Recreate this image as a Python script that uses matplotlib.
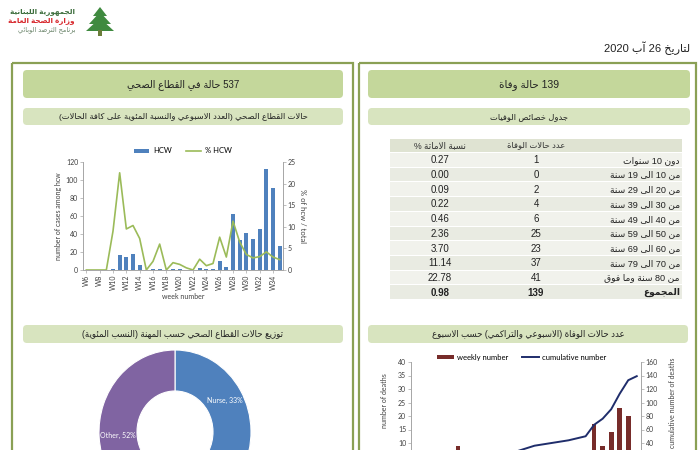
import matplotlib
matplotlib.use("Agg")
import matplotlib.pyplot as plt
from matplotlib.patches import FancyBboxPatch, Rectangle, Polygon
import numpy as np

# ---------------- data ----------------
date_text = "لتاريخ 26 آب 2020"
logo_lines = ["الجمهورية اللبنانية", "وزارة الصحة العامة", "برنامج الترصد الوبائي"]
hcw_title = "537 حالة في القطاع الصحي"
hcw_sub = "حالات القطاع الصحي (العدد الاسبوعي والنسبة المئوية على كافة الحالات)"
prof_sub = "توزيع حالات القطاع الصحي حسب المهنة (النسب المئوية)"
death_title = "139 حالة وفاة"
death_sub = "جدول خصائص الوفيات"
weekly_sub = "عدد حالات الوفاة (الاسبوعي والتراكمي) حسب الاسبوع"

hcw_weeks = ["W6", "W7", "W8", "W9", "W10", "W11", "W12", "W13", "W14", "W15",
             "W16", "W17", "W18", "W19", "W20", "W21", "W22", "W23", "W24", "W25",
             "W26", "W27", "W28", "W29", "W30", "W31", "W32", "W33", "W34", "W35"]
hcw_cases = [0, 0, 0, 0, 1, 17, 14, 18, 6, 0,
             1, 1, 0, 1, 1, 0, 0, 2, 1, 1,
             10, 3, 62, 33, 41, 35, 46, 112, 91, 27]
hcw_pct = [0, 0, 0, 0, 9, 22.5, 9.5, 10.3, 7.3, 0,
           2, 6, 0, 1.7, 1.3, 0.5, 0, 2.5, 1, 1.5,
           7.6, 3, 11.3, 6.5, 3.6, 2.8, 3.1, 4.2, 3, 2.4]

prof_labels = ["Nurse", "Doctor", "Technician", "Other"]
prof_pct = [33, 9, 6, 52]

table_headers = ["نسبة الاماتة %", "عدد حالات الوفاة"]
age_groups = ["دون 10 سنوات", "من 10 الى 19 سنة", "من 20 الى 29 سنة",
              "من 30 الى 39 سنة", "من 40 الى 49 سنة", "من 50 الى 59 سنة",
              "من 60 الى 69 سنة", "من 70 الى 79 سنة", "من 80 سنة وما فوق"]
deaths_by_age = [1, 0, 2, 4, 6, 25, 23, 37, 41]
cfr_by_age = [0.27, 0.00, 0.09, 0.22, 0.46, 2.36, 3.70, 11.14, 22.78]
total_label = "المجموع"
total_deaths = 139
total_cfr = 0.98

death_weeks = ["W9", "W10", "W11", "W12", "W13", "W14", "W15", "W16", "W17",
               "W18", "W19", "W20", "W21", "W22", "W23", "W24", "W25", "W26",
               "W27", "W28", "W29", "W30", "W31", "W32", "W33", "W34", "W35"]
weekly_deaths = [0, 0, 3, 4, 5, 9, 3, 2, 0,
                 0, 0, 1, 1, 4, 4, 2, 2, 2,
                 2, 3, 3, 17, 9, 14, 23, 20, 6]

# ---------------- Arabic shaping (presentation forms + visual order) -------------
FOUR = {'ئ': 0xFE89, 'ب': 0xFE8F, 'ت': 0xFE95, 'ث': 0xFE99, 'ج': 0xFE9D, 'ح': 0xFEA1,
        'خ': 0xFEA5, 'س': 0xFEB1, 'ش': 0xFEB5, 'ص': 0xFEB9, 'ض': 0xFEBD, 'ط': 0xFEC1,
        'ظ': 0xFEC5, 'ع': 0xFEC9, 'غ': 0xFECD, 'ف': 0xFED1, 'ق': 0xFED5, 'ك': 0xFED9,
        'ل': 0xFEDD, 'م': 0xFEE1, 'ن': 0xFEE5, 'ه': 0xFEE9, 'ي': 0xFEF1}
TWO = {'آ': 0xFE81, 'أ': 0xFE83, 'ؤ': 0xFE85, 'إ': 0xFE87, 'ا': 0xFE8D, 'ة': 0xFE93,
       'د': 0xFEA9, 'ذ': 0xFEAB, 'ر': 0xFEAD, 'ز': 0xFEAF, 'و': 0xFEED, 'ى': 0xFEEF}
ONE = {'ء': 0xFE80}
LAMALEF = {'آ': 0xFEF5, 'أ': 0xFEF7, 'إ': 0xFEF9, 'ا': 0xFEFB}
MIRROR = {'(': ')', ')': '('}


def shape(s):
    toks, i = [], 0
    while i < len(s):
        if s[i] == 'ل' and i + 1 < len(s) and s[i + 1] in LAMALEF:
            toks.append(('LA', s[i + 1]))
            i += 2
        else:
            toks.append(('C', s[i]))
            i += 1

    def joins_next(t):
        return t[0] == 'C' and t[1] in FOUR

    def joins_prev(t):
        return t[0] == 'LA' or t[1] in FOUR or t[1] in TWO

    out = []
    for k, t in enumerate(toks):
        prev = toks[k - 1] if k > 0 else None
        nxt = toks[k + 1] if k + 1 < len(toks) else None
        p = prev is not None and joins_next(prev)
        if t[0] == 'LA':
            out.append(chr(LAMALEF[t[1]] + (1 if p else 0)))
            continue
        c = t[1]
        if c in FOUR or c in TWO:
            q = c in FOUR and nxt is not None and joins_prev(nxt)
            base = FOUR.get(c, TWO.get(c))
            out.append(chr(base + (3 if (p and q) else 1 if p else 2 if q else 0)))
        elif c in ONE:
            out.append(chr(ONE[c]))
        else:
            out.append(c)
    return ''.join(out)


def ar(s):
    s = shape(s)
    runs = []
    for ch in s:
        ltr = ch.isascii() and (ch.isalnum() or ch == '.')
        if runs and runs[-1][0] == ltr:
            runs[-1][1].append(ch)
        else:
            runs.append([ltr, [ch]])
    parts = []
    for ltr, chars in reversed(runs):
        if ltr:
            parts.append(''.join(chars))
        else:
            parts.append(''.join(MIRROR.get(c, c) for c in reversed(chars)))
    return ''.join(parts)


AR_FONT = ['Liberation Sans', 'DejaVu Sans']
EN_FONT = ['Lato', 'DejaVu Sans']

# ---------------- colours ----------------
BORDER = '#8aa055'
TITLE_FILL = '#c4d79b'
SUB_FILL = '#d8e4bf'
BLUE = '#4f81bd'
GREEN = '#9bbb59'
DARKRED = '#772c2a'
NAVY = '#1f2d6b'

fig = plt.figure(figsize=(7, 4.5), dpi=100)
fig.patch.set_facecolor('white')

# background overlay in pixel coordinates
bg = fig.add_axes([0, 0, 1, 1])
bg.set_xlim(0, 700)
bg.set_ylim(450, 0)
bg.axis('off')
bg.set_zorder(0)

# logo
for pts in ([(100, 7), (93, 16), (107, 16)], [(100, 12), (89, 24), (111, 24)],
            [(100, 18), (86, 31), (114, 31)]):
    bg.add_patch(Polygon(pts, closed=True, color='#3f8a3f', lw=0))
bg.add_patch(Rectangle((98, 30), 4, 6, color='#6b7d3a', lw=0))
bg.text(75, 12, ar(logo_lines[0]), ha='right', va='center', fontsize=5.2,
        color='#3d6e3d', family=AR_FONT, fontweight='bold')
bg.text(75, 21, ar(logo_lines[1]), ha='right', va='center', fontsize=5.2,
        color='#d7262b', family=AR_FONT, fontweight='bold')
bg.text(75, 30, ar(logo_lines[2]), ha='right', va='center', fontsize=4.8,
        color='#6a846a', family=AR_FONT)

bg.text(690, 48, ar(date_text), ha='right', va='center', fontsize=8,
        color='#222222', family=AR_FONT)

# panels
bg.add_patch(Rectangle((12, 63), 341, 420, fill=False, ec=BORDER, lw=1.6))
bg.add_patch(Rectangle((359, 63), 337, 420, fill=False, ec=BORDER, lw=1.6))


def box(x0, x1, y0, y1, fill, text, fs):
    bg.add_patch(FancyBboxPatch((x0, y0), x1 - x0, y1 - y0,
                                boxstyle="round,pad=0,rounding_size=4",
                                fc=fill, ec='none'))
    bg.text((x0 + x1) / 2, (y0 + y1) / 2 + 0.5, ar(text), ha='center', va='center',
            fontsize=fs, color='#222222', family=AR_FONT)


box(23, 343, 70, 98, TITLE_FILL, hcw_title, 7)
box(23, 343, 108, 125, SUB_FILL, hcw_sub, 6)
box(368, 690, 70, 98, TITLE_FILL, death_title, 7.5)
box(368, 690, 108, 125, SUB_FILL, death_sub, 6)
box(23, 343, 325, 343, SUB_FILL, prof_sub, 6.2)
box(368, 688, 325, 343, SUB_FILL, weekly_sub, 6.2)

# table
tx0, tx1 = 390, 682
cols = [390, 490, 582, 682]
hy0, hy1 = 139, 152
row_h = 14.7
bg.add_patch(Rectangle((tx0, hy0), tx1 - tx0, hy1 - hy0, fc='#dfe3d2', ec='none'))
bg.text((cols[0] + cols[1]) / 2, (hy0 + hy1) / 2, ar(table_headers[0]), ha='center',
        va='center', fontsize=6.3, color='#333333', family=AR_FONT)
bg.text((cols[1] + cols[2]) / 2, (hy0 + hy1) / 2, ar(table_headers[1]), ha='center',
        va='center', fontsize=6, color='#333333', family=AR_FONT)
rows = list(zip(age_groups, deaths_by_age, cfr_by_age)) + [(total_label, total_deaths, total_cfr)]
for i, (lab, d, c) in enumerate(rows):
    y0 = hy1 + 1 + i * row_h
    yc = y0 + row_h / 2
    bg.add_patch(Rectangle((tx0, y0), tx1 - tx0, row_h - 1,
                           fc='#f1f2ec' if i % 2 == 0 else '#e9ebe2', ec='none'))
    bold = 'bold' if i == len(rows) - 1 else 'normal'
    bg.text((cols[0] + cols[1]) / 2, yc, f"{c:.2f}", ha='center', va='center',
            fontsize=7, color='#222222', family=AR_FONT, fontweight=bold)
    bg.text((cols[1] + cols[2]) / 2, yc, f"{d}", ha='center', va='center',
            fontsize=7, color='#222222', family=AR_FONT, fontweight=bold)
    bg.text(cols[3] - 2, yc, ar(lab), ha='right', va='center',
            fontsize=6.6, color='#222222', family=AR_FONT, fontweight=bold)

W, H = 700.0, 450.0


def px_axes(x0, x1, ytop, ybot):
    return fig.add_axes([x0 / W, (H - ybot) / H, (x1 - x0) / W, (ybot - ytop) / H])


def style_axes(ax, ax2):
    for a in (ax, ax2):
        for s in a.spines.values():
            s.set_color('#a6a6a6')
            s.set_linewidth(0.6)
        a.spines['top'].set_visible(False)
        a.tick_params(length=2, width=0.5, color='#a6a6a6', labelsize=5,
                      labelcolor='#404040', pad=1.5)
        for lbl in a.get_yticklabels() + a.get_xticklabels():
            lbl.set_family(EN_FONT)


# ---------- HCW chart ----------
ax = px_axes(83, 283, 162, 270)
ax2 = ax.twinx()
x = np.arange(len(hcw_weeks))
b = ax.bar(x, hcw_cases, width=0.6, color=BLUE, label='HCW', zorder=2)
l, = ax2.plot(x, hcw_pct, color=GREEN, lw=1.2, label='% HCW', zorder=3)
ax.set_xlim(-0.5, len(hcw_weeks) - 0.5)
ax.set_ylim(0, 120)
ax.set_yticks(range(0, 121, 20))
ax2.set_ylim(0, 25)
ax2.set_yticks(range(0, 26, 5))
ax.set_xticks(x[::2])
ax.set_xticklabels(hcw_weeks[::2], rotation=90)
ax.set_zorder(2)
ax.patch.set_visible(False)
ax2.set_zorder(3)
style_axes(ax, ax2)
ax.set_ylabel('number of cases among hcw', fontsize=5, color='#404040',
              family=EN_FONT, labelpad=3)
ax2.set_ylabel('% of hcw / total', fontsize=5.5, color='#404040', family=EN_FONT,
               rotation=270, labelpad=7)
ax.set_xlabel('week number', fontsize=5, color='#404040', family=EN_FONT, labelpad=2)
ax.legend(handles=[b, l], loc='lower center', bbox_to_anchor=(0.5, 1.02), ncol=2,
          frameon=False, prop={'family': EN_FONT, 'size': 5.5}, handlelength=2,
          columnspacing=1.8, borderaxespad=0.3, handleheight=0.5, handletextpad=0.5)

# ---------- profession donut ----------
cx, cy, ra, rb = 175, 432, 76, 82
axp = fig.add_axes([(cx - ra) / W, (H - cy - rb) / H, 2 * ra / W, 2 * rb / H])
wedges, _ = axp.pie(prof_pct, colors=[BLUE, '#c0504d', GREEN, '#8064a2'],
                    startangle=90, counterclock=False,
                    wedgeprops=dict(width=0.5, edgecolor='white', linewidth=0.8))
axp.set_aspect('auto')
axp.set_xlim(-1, 1)
axp.set_ylim(-1, 1)
start = 90.0
for lab, pct in zip(prof_labels, prof_pct):
    mid = np.deg2rad(start - pct * 3.6 / 2)
    start -= pct * 3.6
    if pct >= 20:
        axp.text(0.76 * np.cos(mid), 0.76 * np.sin(mid), f"{lab}, {pct}%",
                 ha='center', va='center', fontsize=5, color='white', family=EN_FONT)

# ---------- weekly deaths chart ----------
axd = px_axes(411, 641, 362, 470)
axd2 = axd.twinx()
xd = np.arange(len(death_weeks))
bd = axd.bar(xd, weekly_deaths, width=0.55, color=DARKRED, label='weekly number', zorder=2)
ld, = axd2.plot(xd, np.cumsum(weekly_deaths), color=NAVY, lw=1.4,
                label='cumulative number', zorder=3)
axd.set_xlim(-0.5, len(death_weeks) - 0.5)
axd.set_ylim(0, 40)
axd.set_yticks(range(10, 41, 5))      # lower ticks fall below the visible canvas
axd2.set_ylim(0, 160)
axd2.set_yticks(range(40, 161, 20))
axd.set_xticks([])
axd.set_zorder(2)
axd.patch.set_visible(False)
axd2.set_zorder(3)
style_axes(axd, axd2)
axd.set_ylabel('number of deaths', fontsize=5, color='#404040', family=EN_FONT, labelpad=5)
axd.yaxis.set_label_coords(-0.1, 0.64)
axd2.set_ylabel('cumulative number of deaths', fontsize=5, color='#404040',
                family=EN_FONT, rotation=90, labelpad=4)
axd2.yaxis.set_label_coords(1.12, 0.62)
axd.legend(handles=[bd, ld], loc='lower center', bbox_to_anchor=(0.48, 0.97), ncol=2,
           frameon=False, prop={'family': EN_FONT, 'size': 5.5}, handlelength=2.2,
           columnspacing=1.8, borderaxespad=0.2, handleheight=0.5, handletextpad=0.4)

fig.savefig('out.png', dpi=100, facecolor='white')
